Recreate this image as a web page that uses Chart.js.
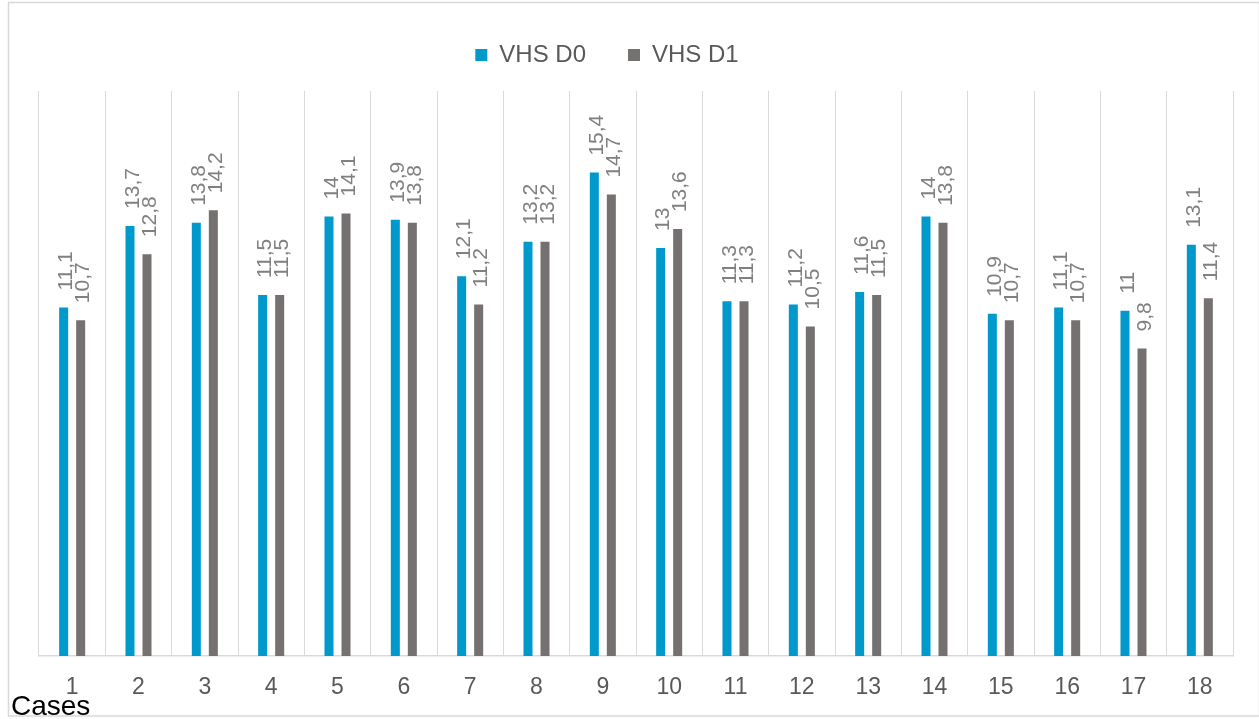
<!DOCTYPE html>
<html>
<head>
<meta charset="utf-8">
<script src="https://cdn.jsdelivr.net/npm/chart.js@4.4.1/dist/chart.umd.min.js"></script>
<style>
  html, body { margin: 0; padding: 0; background: #ffffff; }
  #wrap { width: 1259px; height: 719px; position: relative; }
</style>
</head>
<body>
<div id="wrap"><canvas id="c" width="1259" height="719"></canvas></div>
<script>
const categories = ['1','2','3','4','5','6','7','8','9','10','11','12','13','14','15','16','17','18'];
const vhsD0 = [11.1, 13.7, 13.8, 11.5, 14, 13.9, 12.1, 13.2, 15.4, 13, 11.3, 11.2, 11.6, 14, 10.9, 11.1, 11, 13.1];
const vhsD1 = [10.7, 12.8, 14.2, 11.5, 14.1, 13.8, 11.2, 13.2, 14.7, 13.6, 11.3, 10.5, 11.5, 13.8, 10.7, 10.7, 9.8, 11.4];
const seriesNames = ['VHS D0', 'VHS D1'];
const axisLabel = 'Cases';

const FONT = '"Liberation Sans", Arial, sans-serif';

const framePlugin = {
  id: 'frame',
  beforeDraw(chart) {
    const ctx = chart.ctx;
    ctx.save();
    ctx.fillStyle = '#ffffff';
    ctx.fillRect(0, 0, chart.width, chart.height);
    ctx.strokeStyle = '#d9d9d9';
    ctx.lineWidth = 1.5;
    ctx.strokeRect(8.5, 2.5, chart.width - 8, 713.5);
    ctx.restore();
  },
  afterLayout(chart) {
    if (chart.legend) {
      chart.legend.left -= 29; chart.legend.right -= 29;
      chart.legend.top -= 14; chart.legend.bottom -= 14;
    }
  },
  afterDatasetsDraw(chart) {
    const ctx = chart.ctx;
    ctx.save();
    ctx.fillStyle = '#808080';
    ctx.font = '21px ' + FONT;
    ctx.textAlign = 'left';
    ctx.textBaseline = 'middle';
    chart.data.datasets.forEach((ds, di) => {
      const meta = chart.getDatasetMeta(di);
      meta.data.forEach((el, i) => {
        const txt = String(ds.data[i]).replace('.', ',');
        ctx.save();
        ctx.translate(el.x + 3, el.y - 17);
        ctx.rotate(-Math.PI / 2);
        ctx.fillText(txt, 0, 0);
        ctx.restore();
      });
    });
    ctx.restore();
  },
  afterDraw(chart) {
    const ctx = chart.ctx;
    ctx.save();
    ctx.fillStyle = '#000000';
    ctx.font = '28px ' + FONT;
    ctx.textAlign = 'left';
    ctx.textBaseline = 'alphabetic';
    ctx.fillText(axisLabel, 11, 715);
    ctx.restore();
  }
};

new Chart(document.getElementById('c'), {
  type: 'bar',
  data: {
    labels: categories,
    datasets: [
      { label: seriesNames[0], data: vhsD0, backgroundColor: '#0099cc', barPercentage: 0.53, categoryPercentage: 0.513 },
      { label: seriesNames[1], data: vhsD1, backgroundColor: '#767171', barPercentage: 0.53, categoryPercentage: 0.513 }
    ]
  },
  options: {
    responsive: false,
    animation: false,
    devicePixelRatio: 1,
    layout: { padding: { left: 39, right: 26, top: 15, bottom: 0 } },
    plugins: {
      legend: {
        display: true,
        position: 'top',
        labels: {
          boxWidth: 12, boxHeight: 12, padding: 42,
          color: '#595959',
          font: { family: FONT, size: 24 }
        }
      },
      tooltip: { enabled: false },
      title: { display: false }
    },
    scales: {
      x: {
        grid: { display: true, color: '#d9d9d9', lineWidth: 1, drawTicks: false, offset: true },
        border: { display: true, color: '#d9d9d9', width: 1.5 },
        ticks: { color: '#595959', font: { family: FONT, size: 23 }, padding: 18, maxRotation: 0 },
        afterFit(scale) { scale.height = 719 - 656; }
      },
      y: {
        display: false,
        min: 0,
        max: 18
      }
    }
  },
  plugins: [framePlugin]
});
</script>
</body>
</html>
